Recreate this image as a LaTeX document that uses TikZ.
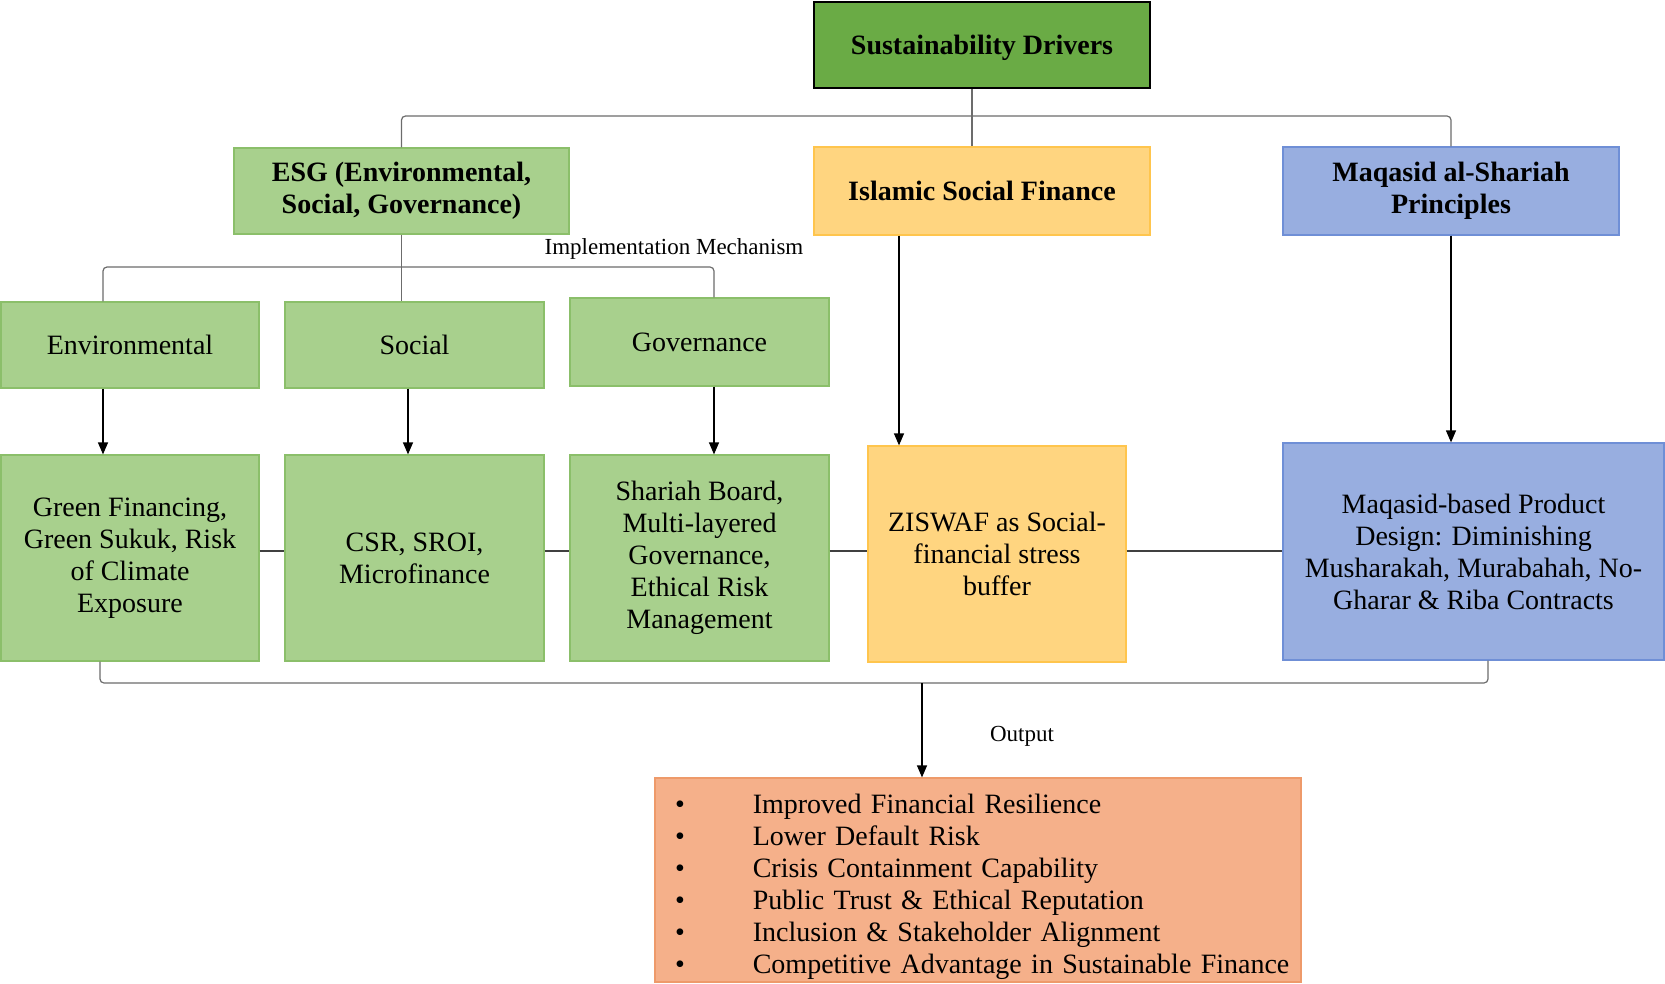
\documentclass[tikz,border=0pt]{standalone}
\usepackage{fontspec}
\setmainfont{Liberation Serif}
\usetikzlibrary{arrows.meta}

\definecolor{drvgreen}{HTML}{6AAB45}
\definecolor{esggreen}{HTML}{A8D08D}
\definecolor{esgedge}{HTML}{8BBF6A}
\definecolor{isfyellow}{HTML}{FFD580}
\definecolor{isfedge}{HTML}{FFC54D}
\definecolor{maqblue}{HTML}{98AEE0}
\definecolor{maqedge}{HTML}{6F8FD6}
\definecolor{outorange}{HTML}{F5B08A}
\definecolor{outedge}{HTML}{EE9A6A}

\begin{document}
\begin{tikzpicture}[x=0.5pt, y=-0.5pt,
	box/.style={draw=esgedge, fill=esggreen, line width=0.6pt, align=center, inner sep=2pt, font=\fontsize{14}{16}\selectfont},
	head/.style={box, font=\fontsize{14}{16}\selectfont\bfseries},
	link/.style={draw=gray!85!black, line width=0.6pt, rounded corners=2pt},
	side/.style={draw=black!75, line width=0.8pt},
	arr/.style={draw=black, line width=0.6pt, -{Triangle[width=5pt,length=6pt]}},
	note/.style={font=\fontsize{11.5}{13}\selectfont}]
	\useasboundingbox (0,0) rectangle (1665,984);

	\node[head, fill=drvgreen, draw=black, line width=1.2pt, minimum width=168pt, minimum height=43pt] (drv) at (982,45) {\raisebox{-1.5pt}[\height][\depth]{Sustainability Drivers}};
	\node[head, minimum width=167.5pt, minimum height=43pt] (esg) at (401.5,191) {ESG (Environmental,\\Social, Governance)};
	\node[head, fill=isfyellow, draw=isfedge, minimum width=168pt, minimum height=44pt] (isf) at (982,191) {Islamic Social Finance};
	\node[head, fill=maqblue, draw=maqedge, minimum width=168pt, minimum height=44pt] (maq) at (1451,191) {Maqasid al-Shariah\\Principles};

	\node[box, minimum width=129pt, minimum height=43pt] (env) at (130,345) {Environmental};
	\node[box, minimum width=129.5pt, minimum height=43pt] (soc) at (414.5,345) {Social};
	\node[box, minimum width=129.5pt, minimum height=44pt] (gov) at (699.5,342) {Governance};

	\node[box, minimum width=129pt, minimum height=103pt] (gfin) at (130,558) {Green Financing,\\Green Sukuk, Risk\\of Climate\\Exposure};
	\node[box, minimum width=129.5pt, minimum height=103pt] (csr) at (414.5,558) {CSR, SROI,\\Microfinance};
	\node[box, minimum width=129.5pt, minimum height=103pt] (shb) at (699.5,558) {Shariah Board,\\Multi-layered\\Governance,\\Ethical Risk\\Management};
	\node[box, fill=isfyellow, draw=isfedge, minimum width=129pt, minimum height=108pt] (zis) at (997,554) {ZISWAF as Social-\\financial stress\\buffer};
	\node[box, fill=maqblue, draw=maqedge, minimum width=190.5pt, minimum height=108.5pt] (mpd) at (1473.5,551.5) {Maqasid-based Product\\Design: Diminishing\\Musharakah, Murabahah, No-\\Gharar \& Riba Contracts};

	\node[box, fill=outorange, draw=outedge, minimum width=323pt, minimum height=102pt, text width=303pt, inner xsep=10pt, align=left] (out) at (978,880) {%
		\raisebox{-3.7pt}[\height][\depth]{\begin{tabular}{@{}l@{\hspace{34pt}}l@{}}
			\textbullet & Improved Financial Resilience\\
			\textbullet & Lower Default Risk\\
			\textbullet & Crisis Containment Capability\\
			\textbullet & Public Trust \& Ethical Reputation\\
			\textbullet & Inclusion \& Stakeholder Alignment\\
			\textbullet & Competitive Advantage in Sustainable Finance
		\end{tabular}}};

	\node[note] (impl) at (674,249) {Implementation Mechanism};
	\node[note] (outlbl) at (1022,736) {Output};

	% columns and bus levels
	\coordinate (topcol) at (972,0);
	\coordinate (topbus) at (0,116);
	\coordinate (esgbus) at (0,267);
	\coordinate (envcol) at (103,0);
	\coordinate (soccol) at (408,0);
	\coordinate (govcol) at (714,0);
	\coordinate (zcol) at (899,0);
	\coordinate (midrow) at (0,551);
	\coordinate (outleft) at (100,683);
	\coordinate (outright) at (1488,683);
	\coordinate (outcol) at (922,683);

	\draw[link] (drv.south -| topcol) -- (isf.north -| topcol);
	\draw[link] (esg.north) |- (topbus -| maq.north) -- (maq.north);

	\draw[link] (esg.south) -- (esg.south |- soc.north);
	\draw[link] (env.north -| envcol) |- (esgbus -| govcol) -- (gov.north -| govcol);

	\draw[arr] (env.south -| envcol) -- (gfin.north -| envcol);
	\draw[arr] (soc.south -| soccol) -- (csr.north -| soccol);
	\draw[arr] (gov.south -| govcol) -- (shb.north -| govcol);
	\draw[arr] (isf.south -| zcol) -- (zis.north -| zcol);
	\draw[arr] (maq.south) -- (maq.south |- mpd.north);

	\foreach \a/\b in {gfin/csr, csr/shb, shb/zis, zis/mpd}
		\draw[side] (\a.east |- midrow) -- (\b.west |- midrow);

	\draw[link] (gfin.south -| outleft) -- (outleft) -- (outright) -- (mpd.south -| outright);
	\draw[arr] (outcol) -- (out.north -| outcol);
\end{tikzpicture}
\end{document}
